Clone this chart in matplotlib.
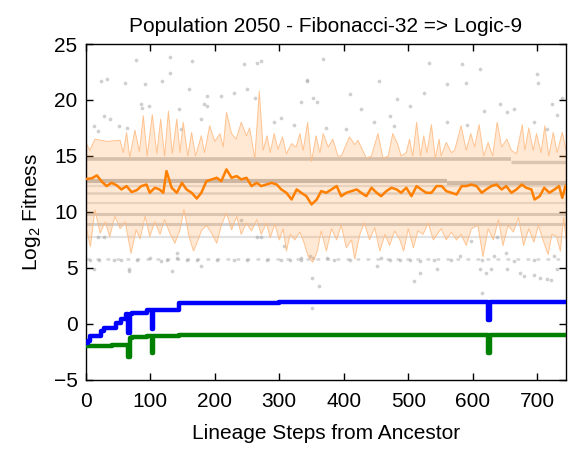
import matplotlib
matplotlib.use("Agg")
import matplotlib.pyplot as plt

plt.rcParams['font.family'] = ['Liberation Sans', 'DejaVu Sans']

# orange: population mean log2 fitness along the lineage
mean_steps = [1, 9, 17, 24, 32, 40, 48, 55, 63, 71, 79, 86, 94, 99, 107, 114, 120, 125, 133, 141,
              149, 156, 164, 172, 179, 187, 195, 203, 210, 218, 226, 234, 241, 249, 257, 265, 272, 280, 288, 296,
              303, 311, 319, 327, 334, 342, 350, 358, 365, 373, 381, 389, 396, 404, 412, 420, 427, 435, 443, 451,
              458, 466, 474, 482, 489, 497, 505, 513, 520, 528, 536, 544, 552, 559, 567, 575, 583, 590, 598, 606,
              614, 621, 629, 637, 645, 652, 660, 668, 676, 683, 691, 696, 704, 711, 719, 727, 734, 739, 744]
mean_vals = [12.95, 13.0, 13.26, 12.75, 12.31, 12.6, 12.37, 12.01, 12.31, 11.77, 11.95, 12.31, 12.45, 11.71, 12.16, 12.01, 11.71, 13.65, 12.16, 11.71,
             12.6, 12.01, 11.71, 11.2, 11.71, 12.75, 12.9, 13.05, 12.75, 13.8, 13.05, 13.2, 12.9, 13.05, 12.31, 12.6, 12.31, 12.45, 12.6, 12.45,
             12.01, 11.71, 11.11, 12.01, 11.71, 11.41, 10.67, 11.1, 11.86, 11.71, 12.01, 12.31, 11.41, 11.71, 11.86, 12.01, 11.71, 11.41, 12.16, 11.71,
             11.41, 11.86, 12.16, 12.01, 11.71, 12.16, 11.41, 12.31, 12.01, 11.71, 11.71, 12.31, 12.31, 11.86, 11.71, 11.56, 12.31, 12.31, 12.45, 12.31,
             11.71, 12.01, 12.31, 12.45, 12.01, 12.31, 11.71, 12.01, 12.45, 12.16, 12.01, 11.11, 11.41, 12.16, 11.71, 12.01, 12.31, 11.26, 12.31]

# shaded spread, upper and lower edge
up_steps = [0, 6, 14, 32, 53, 58, 63, 68, 76, 83, 89, 95, 103, 110, 116, 122, 128, 134, 141, 146,
            151, 158, 164, 170, 179, 184, 192, 200, 208, 213, 218, 226, 233, 241, 249, 254, 262, 269, 275, 281,
            286, 292, 298, 305, 311, 319, 326, 332, 337, 344, 350, 357, 363, 368, 376, 383, 391, 396, 409, 417,
            422, 427, 435, 443, 453, 461, 469, 476, 484, 489, 497, 502, 507, 513, 519, 524, 529, 536, 542, 548,
            551, 559, 567, 572, 582, 590, 597, 603, 610, 617, 624, 631, 638, 645, 653, 660, 668, 677, 681, 687,
            694, 699, 706, 712, 718, 725, 731, 739, 745]
up_vals = [16.2, 15.5, 16.5, 16.3, 16.4, 15.3, 17.1, 14.9, 17.3, 15.4, 18.6, 15.0, 18.7, 15.2, 18.3, 15.0, 19.0, 15.2, 18.3, 15.3,
           18.0, 15.0, 17.1, 15.0, 16.8, 15.3, 17.7, 16.3, 17.0, 15.8, 18.9, 17.0, 16.5, 18.0, 16.8, 17.5, 14.8, 20.8, 15.5, 16.8,
           15.3, 17.0, 15.6, 16.7, 15.2, 16.1, 15.8, 17.0, 15.5, 18.0, 14.5, 16.8, 15.3, 17.0, 15.8, 16.5, 15.0, 15.0, 16.7, 16.0,
           16.4, 15.8, 14.8, 15.0, 17.0, 14.8, 15.0, 17.0, 16.0, 15.0, 15.3, 16.5, 15.0, 18.0, 15.0, 16.8, 15.3, 17.8, 14.8, 16.5,
           15.0, 16.2, 15.3, 15.5, 17.7, 15.5, 17.0, 15.8, 17.8, 15.0, 16.2, 15.0, 18.0, 15.8, 16.5, 15.5, 15.2, 17.8, 15.5, 17.5,
           15.5, 17.0, 15.3, 17.7, 15.0, 17.1, 15.3, 17.1, 15.5]
lo_steps = [0, 7, 14, 22, 30, 37, 45, 53, 61, 70, 78, 84, 92, 99, 107, 115, 122, 131, 138, 146,
            152, 160, 167, 174, 179, 187, 195, 203, 210, 218, 226, 234, 241, 249, 257, 265, 272, 280, 286, 293,
            300, 306, 311, 317, 324, 332, 338, 345, 352, 359, 365, 373, 381, 389, 396, 404, 412, 417, 425, 432,
            440, 448, 456, 464, 471, 479, 487, 493, 500, 508, 515, 523, 531, 539, 545, 551, 559, 567, 575, 582,
            590, 598, 608, 616, 624, 632, 640, 647, 655, 663, 671, 679, 687, 695, 702, 709, 717, 723, 730, 736,
            741, 745]
lo_vals = [8.7, 6.9, 10.2, 8.1, 9.1, 7.8, 9.6, 8.5, 9.1, 6.3, 8.4, 7.6, 9.6, 7.8, 9.1, 8.0, 9.3, 8.0, 7.2, 8.4,
           10.2, 7.8, 6.5, 7.5, 8.3, 8.8, 8.1, 7.2, 8.8, 9.9, 8.4, 9.6, 8.0, 9.0, 8.3, 9.3, 8.0, 9.0, 7.7, 8.9,
           7.5, 8.5, 6.5, 8.0, 7.5, 8.2, 7.3, 6.0, 5.5, 6.5, 8.3, 6.5, 8.5, 7.5, 8.8, 6.8, 7.5, 5.8, 8.0, 9.0,
           7.5, 8.6, 6.5, 8.0, 7.0, 8.3, 7.5, 6.5, 8.5, 6.8, 8.3, 8.0, 9.0, 7.5, 8.0, 8.5, 7.5, 8.2, 7.5, 8.0,
           7.0, 8.5, 8.8, 6.0, 8.5, 7.5, 9.3, 7.0, 8.8, 8.2, 9.5, 7.0, 8.5, 7.3, 8.8, 7.5, 6.2, 8.0, 7.8, 6.5,
           9.5, 7.5]

# dense rows of individual genotypes (start step, end step, log2 fitness)
row_start = [0, 660, 0, 560, 0, 0, 0, 0, 0, 0, 0]
row_end = [660, 745, 560, 745, 745, 745, 745, 745, 745, 745, 745]
row_level = [14.75, 14.5, 12.75, 12.6, 12.3, 11.65, 10.8, 9.85, 8.9, 7.8, 5.8]

# scattered individual genotypes
dots_x = [77, 131, 165, 245, 266, 271, 23, 33, 61, 92, 118, 131, 160, 188, 209, 85, 87, 98, 144, 28,
          38, 12, 18, 51, 64, 183, 188, 230, 250, 263, 291, 302, 323, 343, 353, 147, 178,
          7, 12, 20, 43, 54, 67, 80, 100, 116, 126, 142, 157, 173, 178, 204, 230, 250, 266, 271,
          281, 302, 317, 333, 353, 28, 18, 142, 240, 307,
          368, 533, 584, 612, 454, 343, 589, 560, 700, 702, 410, 524, 483, 739, 723, 664, 333, 359,
          426, 503, 472, 447, 617, 643, 653, 560, 591, 731, 695, 715, 372, 403, 478,
          351, 361, 452, 509, 519, 545, 612, 620, 628, 653, 674, 695, 705, 721, 731, 348, 374, 385,
          410, 457, 472, 488, 503, 519, 540, 566, 581, 615, 633, 651, 664, 695, 726, 597, 638, 333,
          351, 615, 679, 715, 67, 134]
dots_y = [23.6, 23.8, 23.5, 23.2, 23.3, 23.5, 21.7, 21.85, 21.55, 21.4, 21.7, 22.4, 20.96, 20.36, 20.36, 19.6, 19.3, 19.5, 19.2, 18.6,
          18.3, 17.7, 17.2, 17.7, 17.5, 19.6, 19.5, 20.66, 20.96, 20.2, 18.0, 18.4, 17.8, 21.7, 20.2, 17.4, 18.3,
          5.75, 4.86, 5.75, 5.75, 5.75, 4.86, 5.75, 5.9, 5.6, 5.75, 5.9, 5.75, 5.75, 5.16, 5.75, 5.75, 5.75, 7.8, 7.8,
          5.75, 5.75, 5.75, 5.75, 5.9, 7.8, 7.8, 6.35, 9.3, 6.95,
          23.7, 23.3, 23.2, 22.8, 21.7, 21.8, 21.55, 21.4, 22.3, 21.55, 20.5, 20.66, 20.06, 20.2, 19.6, 19.2, 19.8, 19.8,
          19.2, 19.5, 18.6, 18.0, 19.0, 19.6, 18.9, 18.0, 17.8, 18.7, 18.0, 17.4, 17.5, 17.4, 17.7,
          4.1, 3.4, 5.16, 3.8, 4.56, 4.86, 4.86, 4.56, 4.86, 4.86, 4.56, 4.4, 4.1, 3.96, 4.86, 6.05, 5.9, 5.75,
          5.75, 5.9, 5.75, 5.75, 5.75, 5.6, 5.75, 5.75, 6.05, 5.75, 6.05, 6.35, 5.6, 5.75, 6.05, 7.4, 7.8, 5.9,
          1.4, 2.8, 4.3, 4.0, 4.7, 4.7]

# blue and green lineage traces (step plots)
blue_steps = [0, 4, 7, 23, 28, 46, 54, 62, 66, 68, 72, 95, 102, 104, 144, 300, 500, 624, 627, 742]
blue_vals = [-1.7, -1.55, -1.1, -0.66, -0.36, 0.09, 0.45, 0.84, -0.8, 0.84, 1.0, 1.22, -0.45, 1.22, 1.88, 1.92, 1.95, 0.39, 1.95, 1.95]
green_steps = [0, 40, 66, 68, 72, 95, 102, 104, 144, 300, 500, 624, 627, 742]
green_vals = [-1.95, -1.9, -3.0, -1.25, -1.2, -1.1, -2.6, -1.1, -1.0, -0.98, -0.95, -2.6, -0.95, -0.95]

row_lw = [2.6, 2.4, 3.0, 3.0, 1.6, 1.8, 1.5, 2.2, 2.2, 1.6, 1.8]
row_alpha = [0.45, 0.4, 0.55, 0.5, 0.25, 0.3, 0.25, 0.4, 0.4, 0.25, 0.35]
row_ls = ['-', '-', '-', '-', '-', '-', '-', '-', '-', '-', (0, (1.5, 2.5))]

fig = plt.figure(figsize=(5.69, 4.49), dpi=100)
ax = fig.add_axes([0.151, 0.154, 0.844, 0.748])

ax.scatter(dots_x, dots_y, s=7, color='#a8a8a8', alpha=0.55, linewidths=0, zorder=1)
for x0, x1, lev, lw, al, ls in zip(row_start, row_end, row_level, row_lw, row_alpha, row_ls):
    ax.plot([x0, x1], [lev, lev], color='#8c8c8c', lw=lw, alpha=al, ls=ls, zorder=1,
            solid_capstyle='butt')

poly_x = up_steps + lo_steps[::-1]
poly_y = up_vals + lo_vals[::-1]
ax.fill(poly_x, poly_y, facecolor='#ff9a3c', alpha=0.22, edgecolor='none', zorder=2)
ax.plot(up_steps, up_vals, color='#ffb77a', lw=0.7, alpha=0.8, zorder=2)
ax.plot(lo_steps, lo_vals, color='#ffb77a', lw=0.7, alpha=0.8, zorder=2)

ax.plot(mean_steps, mean_vals, color='#ff8000', lw=1.8, zorder=3)

ax.plot(green_steps, green_vals, color='#008000', lw=3.2, drawstyle='steps-post', zorder=4)
ax.plot(blue_steps, blue_vals, color='#0000ff', lw=3.2, drawstyle='steps-post', zorder=4)

ax.set_xlim(0, 745)
ax.set_ylim(-5, 25)
ax.set_xticks(range(0, 701, 100))
ax.set_yticks(range(-5, 26, 5))
ax.tick_params(direction='in', top=True, right=True, length=5, width=1, labelsize=15)
ax.tick_params(axis='x', pad=9)
ax.tick_params(axis='y', pad=6)
for sp in ax.spines.values():
    sp.set_linewidth(1.0)

ax.set_title('Population 2050 - Fibonacci-32 => Logic-9', fontsize=15, pad=9)
ax.set_xlabel('Lineage Steps from Ancestor', fontsize=15, labelpad=9)
ax.set_ylabel(r'Log$_\mathregular{2}$ Fitness', fontsize=15, labelpad=8)

fig.savefig('out.png', dpi=100)
